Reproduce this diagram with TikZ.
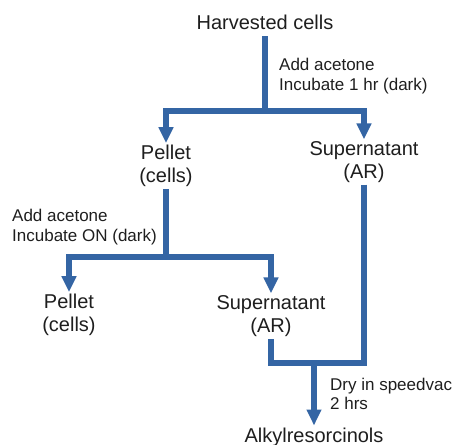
\documentclass[tikz,border=0pt]{standalone}
\usepackage{fontspec}
\setmainfont{Liberation Sans}
\usetikzlibrary{arrows.meta}
\definecolor{flowblue}{HTML}{3465A4}
\definecolor{txt}{HTML}{1E1E1E}
\begin{document}
\begin{tikzpicture}[x=1pt,y=-1pt,
  mainlbl/.style={font=\fontsize{20}{23}\selectfont, text=txt, align=center, inner sep=0pt, outer xsep=0pt, outer ysep=2pt},
  steplbl/.style={font=\fontsize{17}{19.5}\selectfont, text=txt, align=left, inner sep=0pt, anchor=west},
  flow/.style={draw=flowblue, line width=6pt, line join=miter, line cap=butt},
  flowarrow/.style={flow, -{Triangle[width=14pt,length=16pt]}}]
\useasboundingbox (0,0) rectangle (456,445);

\node[mainlbl, anchor=base, outer ysep=7pt] (harv) at (265,29) {Harvested cells};
\node[mainlbl] (p1) at (166,166) {Pellet\\(cells)};
\node[mainlbl] (s1) at (364,162) {Supernatant\\(AR)};
\node[mainlbl] (p2) at (69,315) {Pellet\\(cells)};
\node[mainlbl] (s2) at (271,316) {Supernatant\\(AR)};
\node[mainlbl, anchor=base] (alk) at (314,442) {Alkylresorcinols};

\node[steplbl] (l1) at (279,76) {Add acetone\\Incubate 1 hr (dark)};
\node[steplbl] (l2) at (12,227) {Add acetone\\Incubate ON (dark)};
\node[steplbl] (l3) at (330,394) {Dry in speedvac\\2 hrs};

\coordinate (j1) at (265,111);
\coordinate (j2) at (166,257);
\coordinate (j3) at (314,363);

\draw[flow] (harv.south) -- (j1);
\draw[flowarrow] (j1) -| (p1.north);
\draw[flowarrow] (j1) -| (s1.north);
\draw[flow] (p1.south) -- (j2);
\draw[flowarrow] (j2) -| (p2.north);
\draw[flowarrow] (j2) -| (s2.north);
\draw[flow] (s1.south) |- (s2.south |- j3) -- (s2.south);
\draw[flowarrow] (j3) -- (alk.north);
\end{tikzpicture}
\end{document}
